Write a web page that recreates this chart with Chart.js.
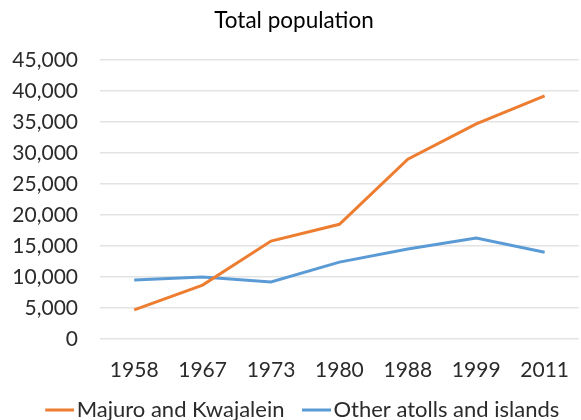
<!DOCTYPE html>
<html lang="en">
<head>
    <meta charset="UTF-8">
    <script src="https://cdn.jsdelivr.net/npm/chart.js"></script>
    <title>Total population</title>
</head>
<style>
    body {
        margin: 0;
        overflow: hidden;
        background: #fff;
    }
    .chart-box {
        width: 588px;
        height: 420px;
    }
</style>
<body>
    <div class="chart-box">
        <canvas id="popChart"></canvas>
    </div>
    <script>
        // data
        var years = ['1958', '1967', '1973', '1980', '1988', '1999', '2011'];
        var majuroKwaj = [4700, 8700, 15800, 18500, 29000, 34700, 39200];
        var otherAtolls = [9500, 10000, 9200, 12400, 14500, 16300, 14000];

        var fontName = "Lato, 'Open Sans', sans-serif";
        var textColor = '#2b2b2b';

        // legend swatch: short line sitting right next to the label text
        function legendLine(color) {
            var c = document.createElement('canvas');
            c.width = 38;
            c.height = 6;
            var g = c.getContext('2d');
            g.strokeStyle = color;
            g.lineWidth = 3;
            g.beginPath();
            g.moveTo(9, 3);
            g.lineTo(38, 3);
            g.stroke();
            return c;
        }

        // nudge the legend a bit to the right (canvas is wider than the window)
        var legendShift = {
            id: 'legendShift',
            afterLayout: function (chart) {
                if (chart.legend) {
                    chart.legend.left += 8;
                    chart.legend.right += 8;
                }
            }
        };

        var ctx = document.getElementById('popChart').getContext('2d');
        new Chart(ctx, {
            type: 'line',
            data: {
                labels: years,
                datasets: [
                    {
                        label: 'Majuro and Kwajalein',
                        data: majuroKwaj,
                        borderColor: '#ed7d31',
                        backgroundColor: '#ed7d31',
                        borderWidth: 3,
                        pointRadius: 0,
                        pointStyle: legendLine('#ed7d31'),
                        tension: 0
                    },
                    {
                        label: 'Other atolls and islands',
                        data: otherAtolls,
                        borderColor: '#5b9bd5',
                        backgroundColor: '#5b9bd5',
                        borderWidth: 3,
                        pointRadius: 0,
                        pointStyle: legendLine('#5b9bd5'),
                        tension: 0
                    }
                ]
            },
            plugins: [legendShift],
            options: {
                responsive: true,
                maintainAspectRatio: false,
                animation: false,
                layout: { padding: { left: 0, right: 0, top: 0, bottom: -11 } },
                plugins: {
                    title: {
                        display: true,
                        text: 'Total population',
                        color: '#000',
                        font: { family: fontName, size: 22.5, weight: 'normal' },
                        padding: { top: 7, bottom: 26 }
                    },
                    legend: {
                        position: 'bottom',
                        labels: {
                            color: textColor,
                            font: { family: fontName, size: 22 },
                            usePointStyle: true,
                            pointStyleWidth: 21,
                            padding: 17
                        }
                    },
                    tooltip: { enabled: false }
                },
                scales: {
                    x: {
                        offset: true,
                        grid: { display: false, drawTicks: false },
                        border: { display: false },
                        ticks: {
                            color: textColor,
                            font: { family: fontName, size: 21 },
                            padding: 19,
                            maxRotation: 0
                        },
                        afterFit: function (scale) { scale.height = 43; }
                    },
                    y: {
                        min: 0,
                        max: 45000,
                        grid: { color: '#e3e3e3', lineWidth: 1.5, drawTicks: false },
                        border: { display: false },
                        ticks: {
                            stepSize: 5000,
                            color: textColor,
                            font: { family: fontName, size: 21 },
                            padding: 22,
                            callback: function (v) { return v.toLocaleString('en-US'); }
                        },
                        afterFit: function (scale) { scale.width = 100; }
                    }
                }
            }
        });
    </script>
</body>
</html>
